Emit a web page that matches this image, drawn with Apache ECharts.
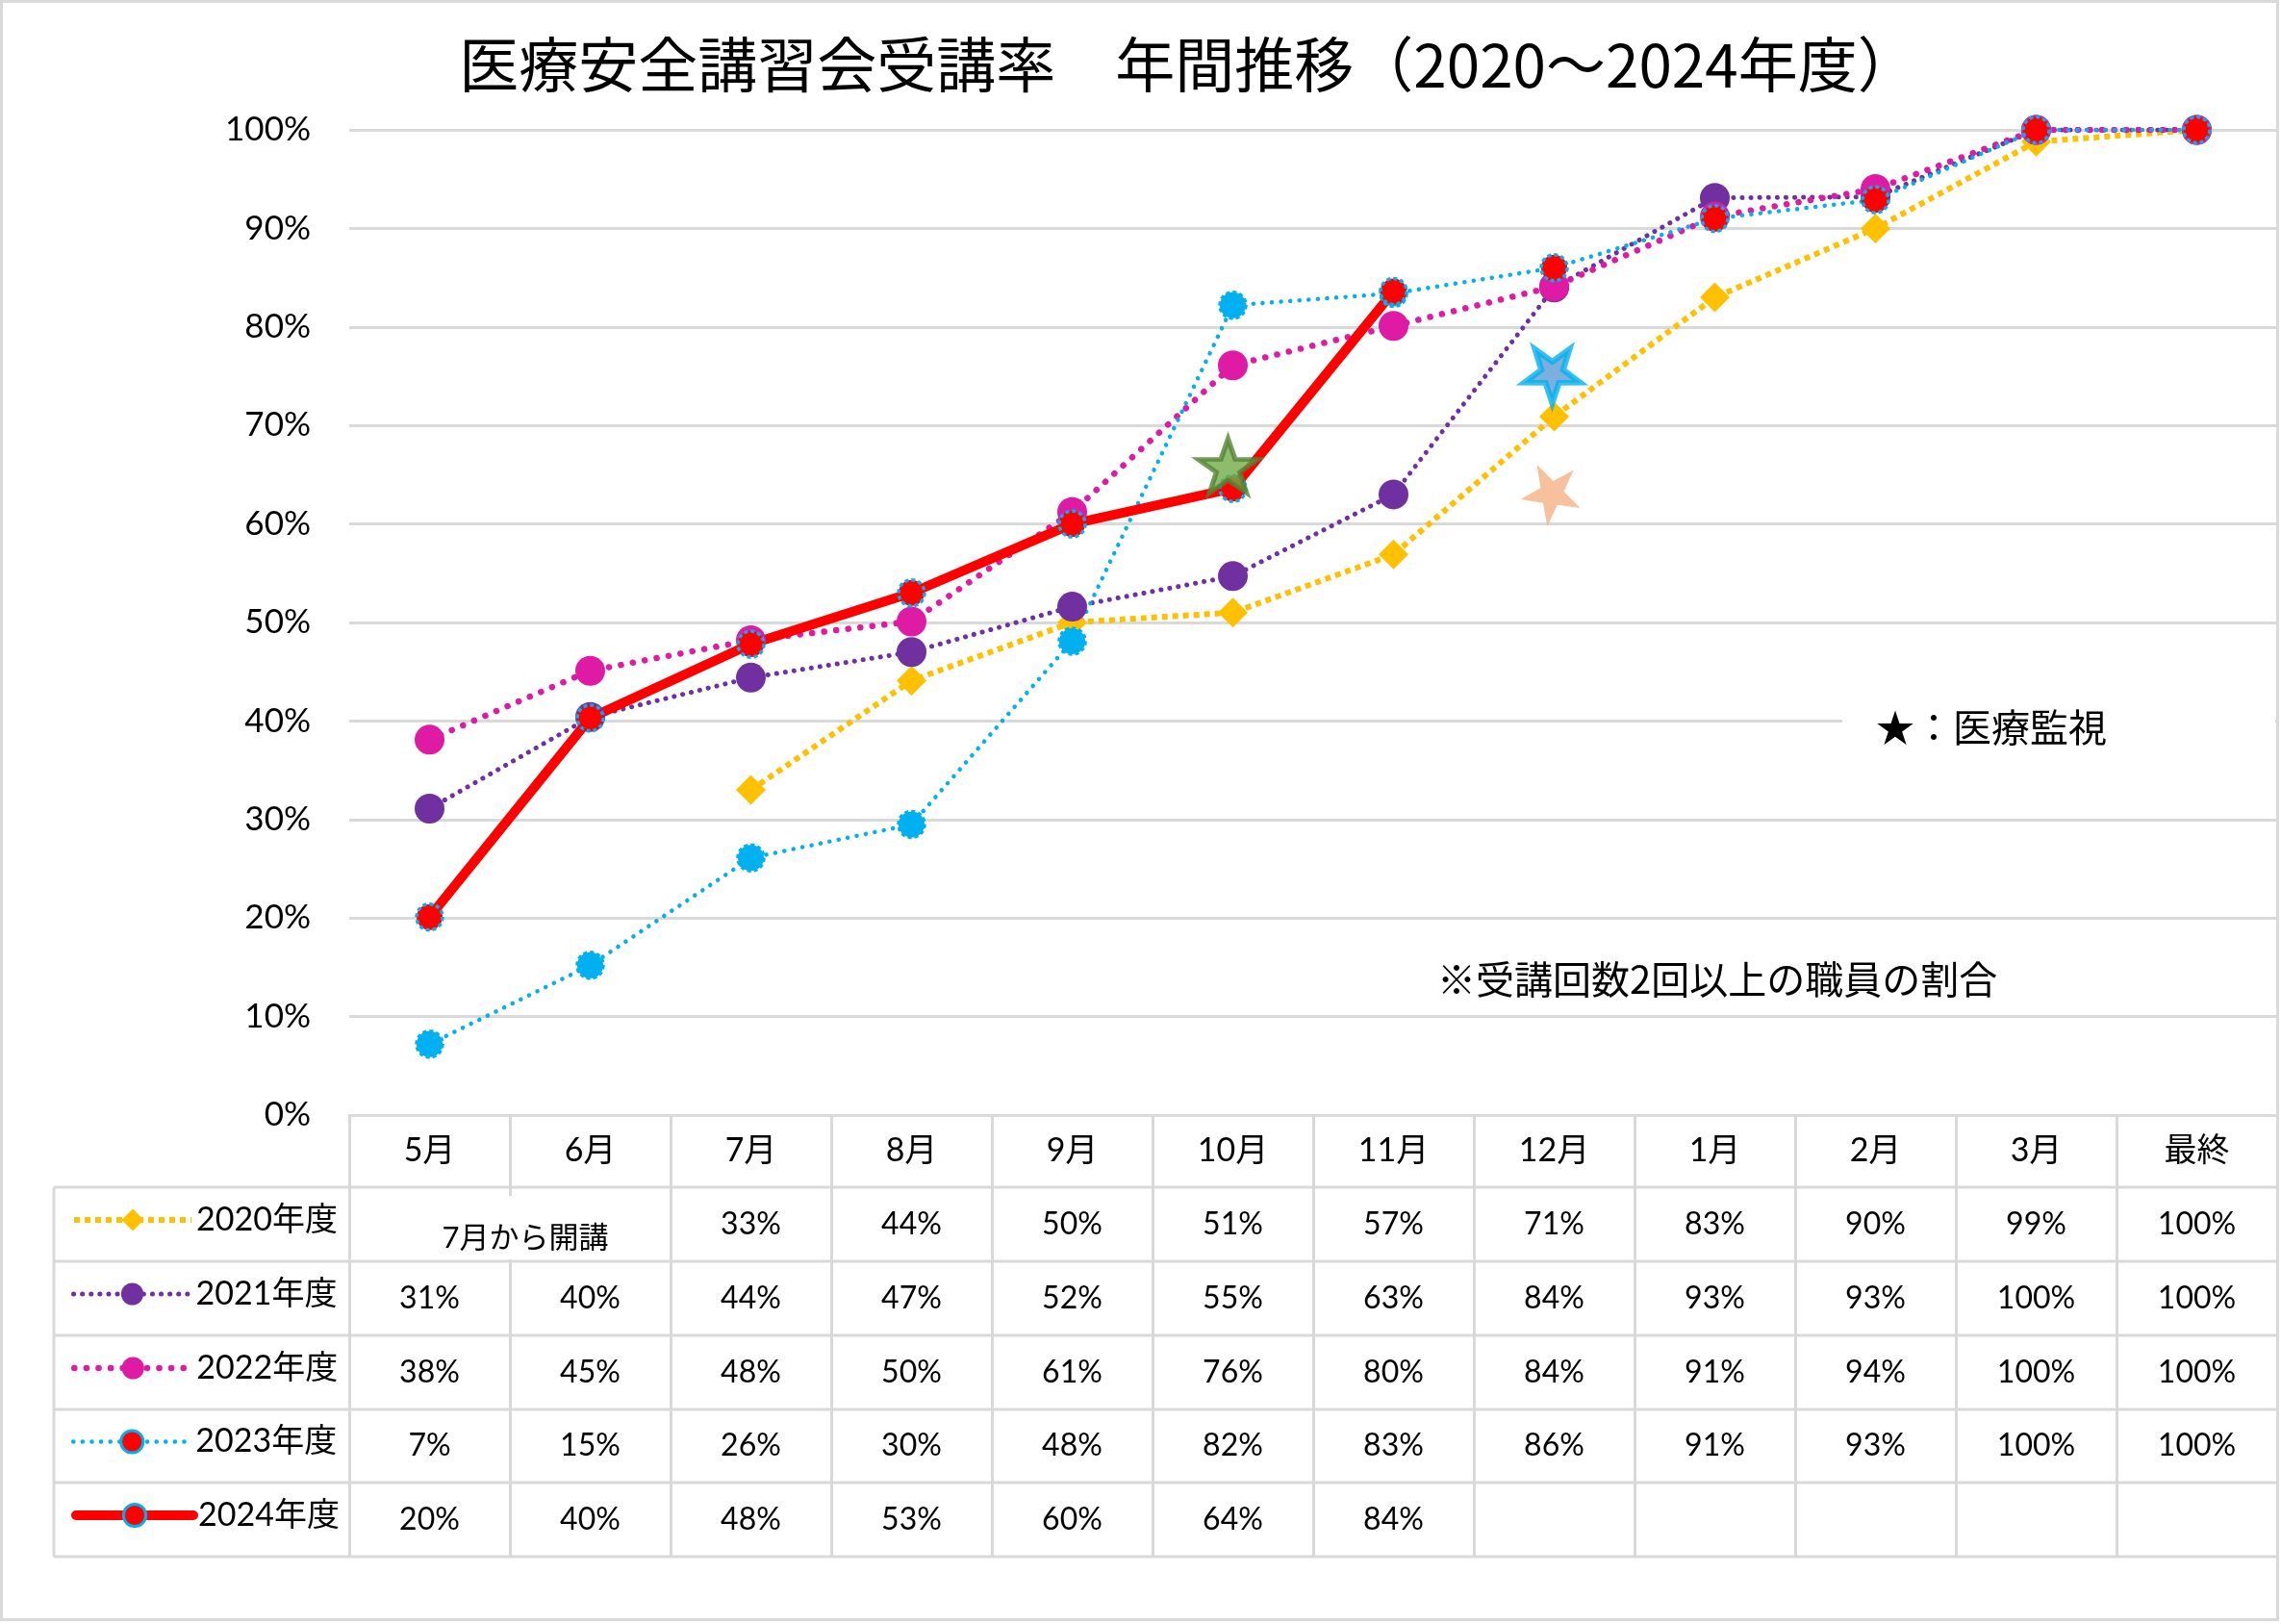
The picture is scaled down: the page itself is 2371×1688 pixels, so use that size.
<!DOCTYPE html>
<html><head><meta charset="utf-8">
<script src="https://cdn.jsdelivr.net/npm/echarts@6/dist/echarts.min.js"></script>
<style>html,body{margin:0;padding:0;background:#fff}#c{width:2371px;height:1688px}</style>
</head><body><div id="c"></div>
<script>
// ---- data ----
const categories = ['5月','6月','7月','8月','9月','10月','11月','12月','1月','2月','3月','最終'];
const seriesNames = ['2020年度','2021年度','2022年度','2023年度','2024年度'];
const y2020 = [null, null, 33, 44.1, 50, 51, 56.9, 70.9, 83, 90, 98.8, 100];
const y2021 = [31.1, 40.4, 44.4, 47, 51.6, 54.7, 63, 84, 93.1, 93.2, 100, 100];
const y2022 = [38.1, 45.1, 48.2, 50.1, 61.2, 76.1, 80.1, 84.1, 91.2, 94, 100, 100];
const y2023 = [7.2, 15.2, 26.1, 29.5, 48.1, 82.2, 83.4, 86, 91, 92.9, 100, 100];
const y2024 = [20.1, 40.3, 47.8, 53, 60, 63.6, 83.6, null, null, null, null, null];
const yTickStep = 10, yMin = 0, yMax = 100;
const starGreen = [['10月', 65.9]];
const starBlue = [['12月', 75.0]];
const starPeach = [['12月', 62.9]];
const titleText = '医療安全講習会受講率　年間推移（2020～2024年度）';
const noteMonitoring = '★：医療監視';
const noteRatio = '※受講回数2回以上の職員の割合';
const note2020 = '7月から開講';

// ---- layout ----
const FONT = "Lato, 'Noto Sans CJK JP', sans-serif";
const CJK = "'Noto Sans CJK JP', sans-serif";
const PL = 363, PR = 2367, PT = 135, PB = 1159;
const ROWS = [1159, 1234, 1311, 1388, 1465, 1541, 1618];
const GRID_C = '#d9d9d9';

// star outline; startDeg = direction of first tip (screen coords, y down)
function starPath(startDeg) {
  let d = '';
  for (let k = 0; k < 10; k++) {
    const r = k % 2 ? 19.5 : 50;
    const a = (startDeg + k * 36) * Math.PI / 180;
    d += (k ? 'L' : 'M') + (50 + r * Math.cos(a)).toFixed(2) + ' ' + (50 + r * Math.sin(a)).toFixed(2);
  }
  return 'path://' + d + 'Z';
}
const STAR_UP = starPath(-90);
const STAR_DOWN = starPath(90);
const STAR_DOWN_TILT = starPath(98);

const allData = [y2020, y2021, y2022, y2023, y2024];
const markerRedBlue = { color: '#FF0000', borderColor: '#00B0F0', borderWidth: 3.5, borderType: [4, 3] };

const seriesList = [
  { name: seriesNames[0], type: 'line', data: y2020, symbol: 'diamond', symbolSize: [31, 31],
    itemStyle: { color: '#FFC000' },
    lineStyle: { color: '#FFC000', width: 6, type: [6, 5], cap: 'butt' } },
  { name: seriesNames[1], type: 'line', data: y2021, symbol: 'circle', symbolSize: 31,
    itemStyle: { color: '#7030A0' },
    lineStyle: { color: '#7030A0', width: 5, type: [0.1, 9], cap: 'round' } },
  { name: seriesNames[2], type: 'line', data: y2022, symbol: 'circle', symbolSize: 31,
    itemStyle: { color: '#DF1AA5' },
    lineStyle: { color: '#DF1AA5', width: 6.5, type: [0.1, 12.5], cap: 'round' } },
  { name: seriesNames[3], type: 'line', symbol: 'circle', symbolSize: 27,
    data: y2023.map((v, i) => i < 7 ? { value: v, itemStyle: { color: '#00B0F0' } } : v),
    itemStyle: markerRedBlue,
    lineStyle: { color: '#00B0F0', width: 4.5, type: [0.1, 9.5], cap: 'round' } },
  { name: seriesNames[4], type: 'line', data: y2024, symbol: 'circle', symbolSize: 27,
    itemStyle: markerRedBlue,
    lineStyle: { color: '#FF0000', width: 10, type: 'solid', cap: 'round', join: 'round' } },
  { type: 'scatter', data: starGreen, symbol: STAR_UP, symbolSize: [62, 56], symbolOffset: [-5, 0], z: 5,
    itemStyle: { color: '#70AD47', borderColor: '#548235', borderWidth: 5 } },
  { type: 'scatter', data: starBlue, symbol: STAR_DOWN, symbolSize: [58, 56], symbolOffset: [-2, 0], z: 5,
    itemStyle: { color: '#5B9BD5', borderColor: '#00B0F0', borderWidth: 6 } },
  { type: 'scatter', data: starPeach, symbol: STAR_DOWN_TILT, symbolSize: [62, 64], symbolOffset: [-4, 0], z: 5,
    itemStyle: { color: '#F4B183' } }
];

const legendLine = [6, 5, 6.5, 4.5, 10];
const rowCenters = [];
for (let k = 1; k < ROWS.length - 1; k++) rowCenters.push((ROWS[k] + ROWS[k + 1]) / 2);

const legends = seriesNames.map((n, i) => ({
  data: [n], left: 74, top: rowCenters[i] - 7 - 14.5, itemWidth: 122, itemHeight: 29,
  selectedMode: false, padding: 0,
  textStyle: { fontSize: 34, fontFamily: FONT, color: '#000' },
  lineStyle: { width: legendLine[i] },
  itemStyle: (i >= 3) ? { borderWidth: 3 } : { borderWidth: 0 }
}));

const chart = echarts.init(document.getElementById('c'), null, { renderer: 'canvas' });
const option = {
  animation: false,
  backgroundColor: '#ffffff',
  textStyle: { fontFamily: FONT },
  legend: legends,
  grid: { left: PL, top: PT, width: PR - PL, height: PB - PT, containLabel: false },
  xAxis: {
    type: 'category', data: categories, boundaryGap: true,
    axisLine: { show: true, lineStyle: { color: GRID_C, width: 3 } },
    axisTick: { show: true, interval: 0, length: ROWS[6] - ROWS[0], lineStyle: { color: GRID_C, width: 3 } },
    axisLabel: { interval: 0, margin: 37, verticalAlign: 'middle', fontSize: 34, color: '#000', fontFamily: FONT },
    splitLine: { show: false }
  },
  yAxis: {
    type: 'value', min: yMin, max: yMax, interval: yTickStep,
    axisLine: { show: false }, axisTick: { show: false },
    axisLabel: { formatter: '{value}%', fontSize: 35, color: '#000', margin: 40, fontFamily: FONT },
    splitLine: { show: true, lineStyle: { color: GRID_C, width: 3 } }
  },
  series: seriesList
};
chart.setOption(option);

// ---- data table & annotations ----
const colX = categories.map((c, i) => chart.convertToPixel({ xAxisIndex: 0 }, i));
const g = [];
g.push({ type: 'rect', z: 100, shape: { x: 1.5, y: 1.5, width: 2366, height: 1682 },
  style: { fill: 'none', stroke: GRID_C, lineWidth: 3 } });
for (let k = 1; k < ROWS.length; k++) {
  g.push({ type: 'line', z: 100, shape: { x1: 56, y1: ROWS[k], x2: PR, y2: ROWS[k] },
    style: { stroke: GRID_C, lineWidth: 3 } });
}
g.push({ type: 'line', z: 100, shape: { x1: 56, y1: ROWS[1], x2: 56, y2: ROWS[6] },
  style: { stroke: GRID_C, lineWidth: 3 } });
allData.forEach((arr, r) => {
  arr.forEach((v, i) => {
    if (v == null) return;
    g.push({ type: 'text', z: 101, x: colX[i], y: rowCenters[r],
      style: { text: Math.round(v) + '%', fontSize: 32, fontFamily: FONT, fill: '#000',
        align: 'center', verticalAlign: 'middle' } });
  });
});
// 2020 note box spanning 5月-6月
g.push({ type: 'rect', z: 101, shape: { x: 393, y: 1243, width: 288, height: 66 }, style: { fill: '#fff' } });
g.push({ type: 'text', z: 102, x: 546, y: 1287,
  style: { text: note2020, fontSize: 31, fontFamily: FONT, fill: '#000', align: 'center', verticalAlign: 'middle' } });
// title
g.push({ type: 'text', z: 102, x: 1235, y: 67,
  style: { text: titleText, fontSize: 62, fontFamily: CJK, fill: '#000', align: 'center', verticalAlign: 'middle' } });
// notes
g.push({ type: 'rect', z: 101, shape: { x: 1915, y: 735, width: 450, height: 40 }, style: { fill: '#fff' } });
g.push({ type: 'text', z: 102, x: 1950, y: 756,
  style: { text: noteMonitoring, fontSize: 40, fontFamily: CJK, fill: '#000', align: 'left', verticalAlign: 'middle' } });
g.push({ type: 'text', z: 102, x: 1494, y: 1018,
  style: { text: noteRatio, fontSize: 40, fontFamily: CJK, fill: '#000', align: 'left', verticalAlign: 'middle' } });

chart.setOption({ graphic: { elements: g } });
</script></body></html>
